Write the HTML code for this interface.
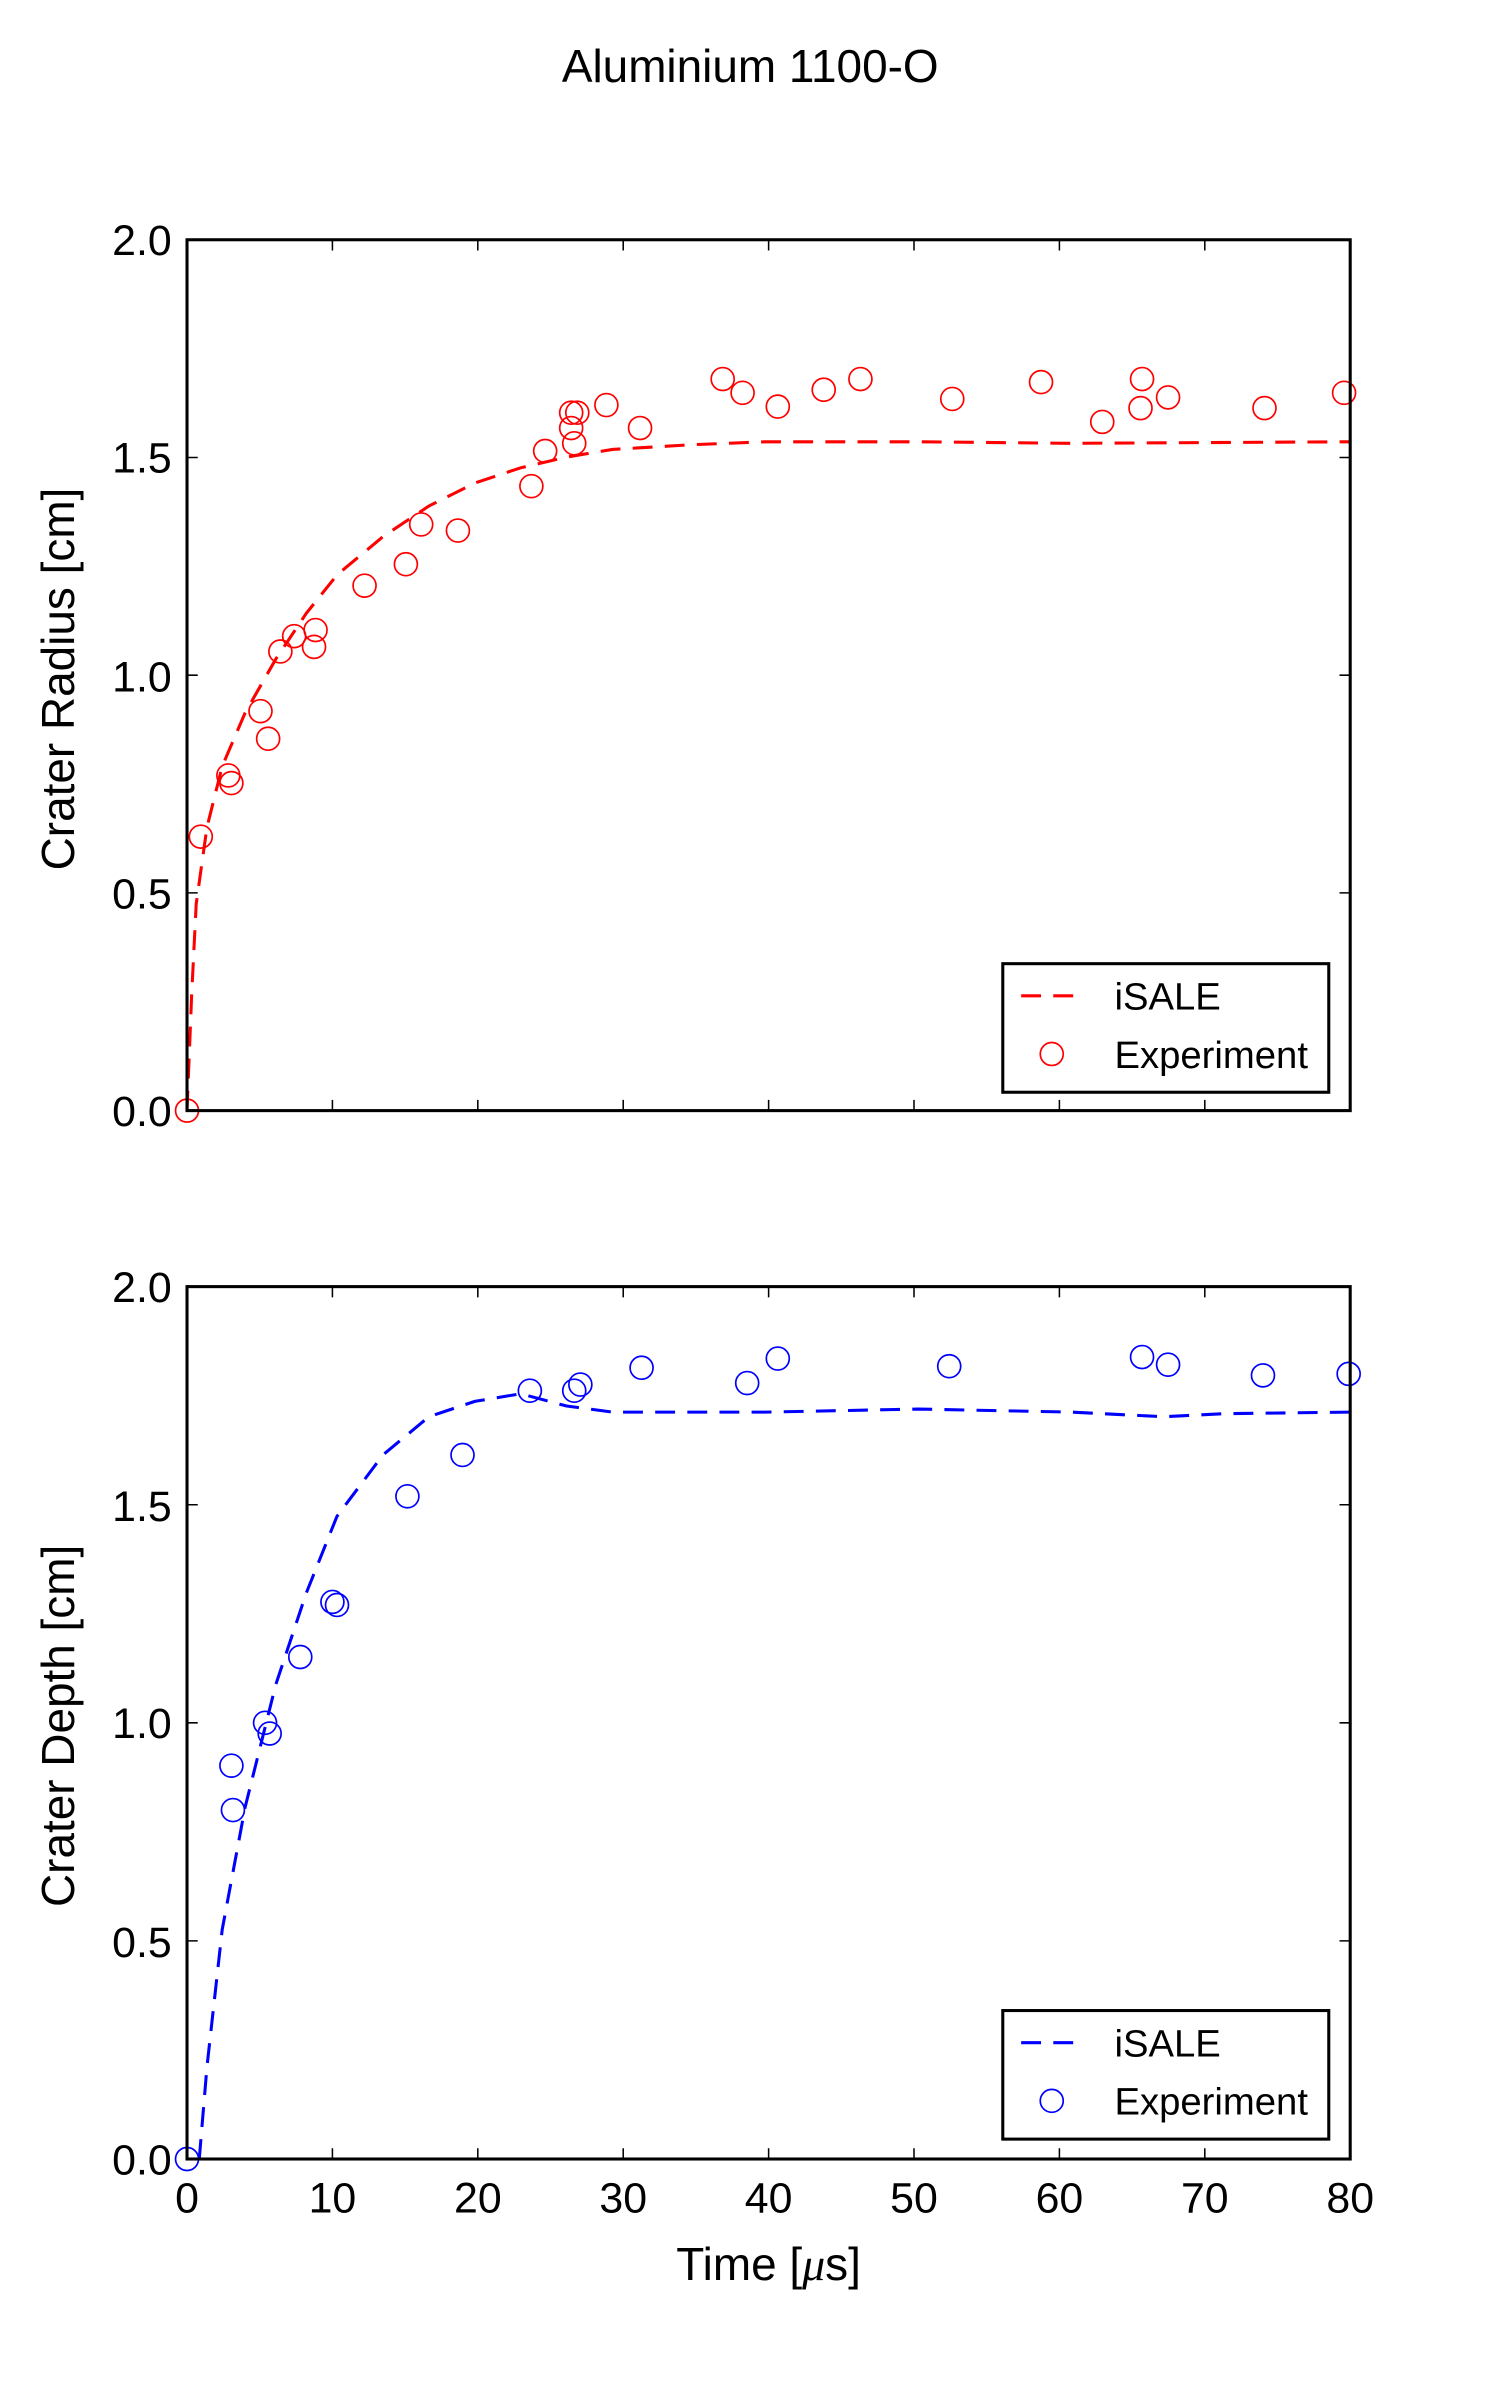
<!DOCTYPE html>
<html><head><meta charset="utf-8"><style>html,body{margin:0;padding:0;background:#fff}svg{display:block}</style></head>
<body>
<svg width="1500" height="2400" viewBox="0 0 1500 2400" xmlns="http://www.w3.org/2000/svg" font-family="Liberation Sans, DejaVu Sans, sans-serif">
<g transform="translate(0.3,1) scale(1.5305)">
<text x="490" y="53" font-size="30" text-anchor="middle">Aluminium 1100-O</text>

<!-- TOP PANEL -->
<g fill="none" stroke="#000" stroke-width="1">
<path d="M217,156v7M312,156v7M407,156v7M502,156v7M597,156v7M692,156v7M787,156v7"/>
<path d="M217,725v-7M312,725v-7M407,725v-7M502,725v-7M597,725v-7M692,725v-7M787,725v-7"/>
<path d="M122,582.75h7M122,440.5h7M122,298.25h7M882,582.75h-7M882,440.5h-7M882,298.25h-7"/>
</g>
<g font-size="28" text-anchor="end">
<text x="112" y="735">0.0</text><text x="112" y="593">0.5</text><text x="112" y="451">1.0</text><text x="112" y="308">1.5</text><text x="112" y="166">2.0</text>
</g>
<text transform="translate(48,443) rotate(-90)" font-size="30" text-anchor="middle">Crater Radius [cm]</text>
<path d="M122,725 L125,650 L128,590 L135,540 L145,500 L160,465 L180,430 L200,400 L220,375 L250,350 L280,330 L310,315 L340,305 L370,298 L400,293 L450,290 L500,288 L600,288 L700,289 L882,288" fill="none" stroke="#f00" stroke-width="2" stroke-dasharray="13,8"/>
<g fill="none" stroke="#f00" stroke-width="1.1">
<circle cx="122" cy="725" r="7.5"/><circle cx="131" cy="546" r="7.5"/><circle cx="149" cy="506" r="7.5"/><circle cx="151" cy="511" r="7.5"/><circle cx="170" cy="464" r="7.5"/><circle cx="175" cy="482" r="7.5"/><circle cx="183" cy="425" r="7.5"/><circle cx="192" cy="415" r="7.5"/><circle cx="205" cy="422" r="7.5"/><circle cx="206" cy="411" r="7.5"/><circle cx="238" cy="382" r="7.5"/><circle cx="265" cy="368" r="7.5"/><circle cx="275" cy="342" r="7.5"/><circle cx="299" cy="346" r="7.5"/><circle cx="347" cy="317" r="7.5"/><circle cx="356" cy="294" r="7.5"/><circle cx="373" cy="269" r="7.5"/><circle cx="377" cy="269" r="7.5"/><circle cx="373" cy="279" r="7.5"/><circle cx="375" cy="289" r="7.5"/><circle cx="396" cy="264" r="7.5"/><circle cx="418" cy="279" r="7.5"/><circle cx="472" cy="247" r="7.5"/><circle cx="485" cy="256" r="7.5"/><circle cx="508" cy="265" r="7.5"/><circle cx="538" cy="254" r="7.5"/><circle cx="562" cy="247" r="7.5"/><circle cx="622" cy="260" r="7.5"/><circle cx="680" cy="249" r="7.5"/><circle cx="720" cy="275" r="7.5"/><circle cx="745" cy="266" r="7.5"/><circle cx="746" cy="247" r="7.5"/><circle cx="763" cy="259" r="7.5"/><circle cx="826" cy="266" r="7.5"/><circle cx="878" cy="256" r="7.5"/>
</g>
<rect x="122" y="156" width="760" height="569" fill="none" stroke="#000" stroke-width="2"/>
<rect x="655" y="629" width="213" height="84" fill="#fff" stroke="#000" stroke-width="2"/>
<path d="M667,650H708" stroke="#f00" stroke-width="2" stroke-dasharray="13,8"/>
<circle cx="687" cy="688" r="7.5" fill="none" stroke="#f00" stroke-width="1.1"/>
<text x="728" y="659" font-size="25">iSALE</text>
<text x="728" y="697" font-size="25">Experiment</text>

<!-- BOTTOM PANEL -->
<g fill="none" stroke="#000" stroke-width="1">
<path d="M217,840v7M312,840v7M407,840v7M502,840v7M597,840v7M692,840v7M787,840v7"/>
<path d="M217,1410v-7M312,1410v-7M407,1410v-7M502,1410v-7M597,1410v-7M692,1410v-7M787,1410v-7"/>
<path d="M122,1267.5h7M122,1125h7M122,982.5h7M882,1267.5h-7M882,1125h-7M882,982.5h-7"/>
</g>
<g font-size="28" text-anchor="end">
<text x="112" y="1420">0.0</text><text x="112" y="1278">0.5</text><text x="112" y="1135">1.0</text><text x="112" y="993">1.5</text><text x="112" y="850">2.0</text>
</g>
<g font-size="28" text-anchor="middle">
<text x="122" y="1445">0</text><text x="217" y="1445">10</text><text x="312" y="1445">20</text><text x="407" y="1445">30</text><text x="502" y="1445">40</text><text x="597" y="1445">50</text><text x="692" y="1445">60</text><text x="787" y="1445">70</text><text x="882" y="1445">80</text>
</g>
<text x="502" y="1489" font-size="30" text-anchor="middle">Time [<tspan font-family="Liberation Serif, serif" font-style="italic">μ</tspan>s]</text>
<text transform="translate(48,1127) rotate(-90)" font-size="30" text-anchor="middle">Crater Depth [cm]</text>
<path d="M130,1410 L135,1350 L145,1260 L160,1180 L180,1100 L200,1040 L220,990 L250,950 L280,925 L310,915 L340,910 L370,918 L400,922 L500,922 L600,920 L700,922 L760,925 L800,923 L882,922" fill="none" stroke="#00f" stroke-width="2" stroke-dasharray="13,8"/>
<g fill="none" stroke="#00f" stroke-width="1.1">
<circle cx="122" cy="1410" r="7.5"/><circle cx="151" cy="1153" r="7.5"/><circle cx="152" cy="1182" r="7.5"/><circle cx="173" cy="1125" r="7.5"/><circle cx="176" cy="1132" r="7.5"/><circle cx="196" cy="1082" r="7.5"/><circle cx="217" cy="1046" r="7.5"/><circle cx="220" cy="1048" r="7.5"/><circle cx="266" cy="977" r="7.5"/><circle cx="302" cy="950" r="7.5"/><circle cx="346" cy="908" r="7.5"/><circle cx="375" cy="908" r="7.5"/><circle cx="379" cy="904" r="7.5"/><circle cx="419" cy="893" r="7.5"/><circle cx="488" cy="903" r="7.5"/><circle cx="508" cy="887" r="7.5"/><circle cx="620" cy="892" r="7.5"/><circle cx="746" cy="886" r="7.5"/><circle cx="763" cy="891" r="7.5"/><circle cx="825" cy="898" r="7.5"/><circle cx="881" cy="897" r="7.5"/>
</g>
<rect x="122" y="840" width="760" height="570" fill="none" stroke="#000" stroke-width="2"/>
<rect x="655" y="1313" width="213" height="84" fill="#fff" stroke="#000" stroke-width="2"/>
<path d="M667,1334H708" stroke="#00f" stroke-width="2" stroke-dasharray="13,8"/>
<circle cx="687" cy="1372" r="7.5" fill="none" stroke="#00f" stroke-width="1.1"/>
<text x="728" y="1343" font-size="25">iSALE</text>
<text x="728" y="1381" font-size="25">Experiment</text>
</g>
</svg>
</body></html>
